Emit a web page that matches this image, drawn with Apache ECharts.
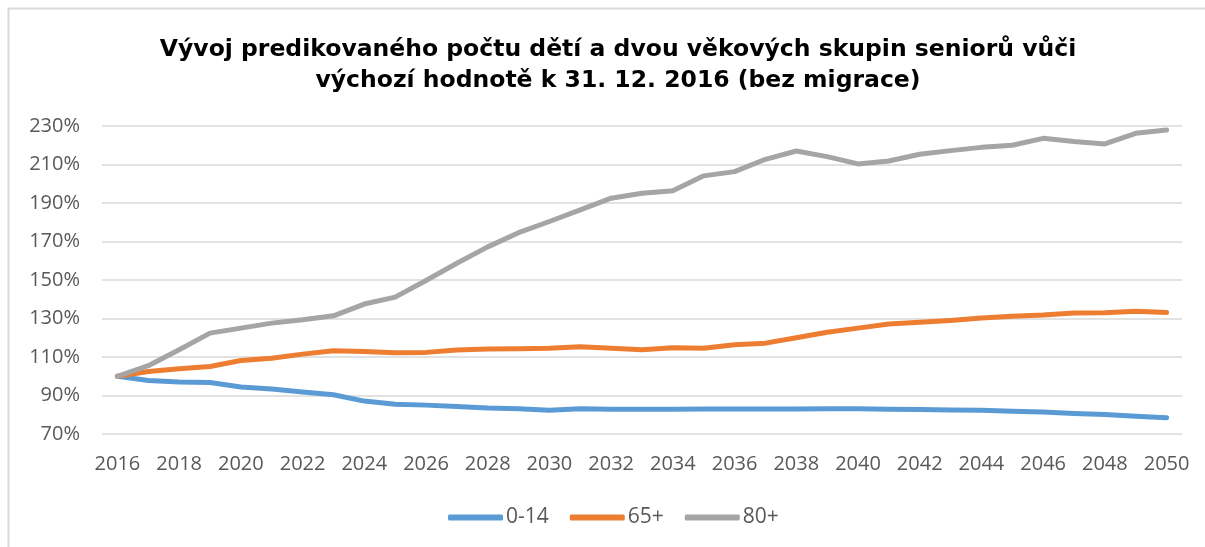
<!DOCTYPE html>
<html>
<head>
<meta charset="utf-8">
<script src="https://cdn.jsdelivr.net/npm/echarts@6/dist/echarts.min.js"></script>
<style>
html,body{margin:0;padding:0;background:#fff;}
#chart{width:1205px;height:547px;}
</style>
</head>
<body>
<div id="chart"></div>
<script>
var titleText = 'Vývoj predikovaného počtu dětí a dvou věkových skupin seniorů vůči\nvýchozí hodnotě k 31. 12. 2016 (bez migrace)';
var years = [];
for (var y = 2016; y <= 2050; y++) years.push(String(y));
var seriesNames = ['0-14', '65+', '80+'];
var kids = [100, 97.8, 97.0, 96.8, 94.4, 93.4, 91.8, 90.4, 87.1, 85.4, 85.0, 84.3, 83.5, 83.1, 82.3, 83.1, 82.9, 82.8, 82.8, 83.0, 83.0, 83.0, 83.0, 83.1, 83.1, 82.9, 82.7, 82.5, 82.3, 81.8, 81.4, 80.7, 80.1, 79.2, 78.4];
var seniors65 = [100, 102.5, 103.9, 105.1, 108.2, 109.4, 111.5, 113.2, 112.9, 112.2, 112.4, 113.6, 114.1, 114.3, 114.5, 115.3, 114.5, 113.8, 114.8, 114.6, 116.4, 117.2, 120.0, 122.9, 125.0, 127.1, 128.1, 129.0, 130.2, 131.2, 131.8, 132.8, 133.0, 133.8, 133.1];
var seniors80 = [100, 105.5, 113.8, 122.4, 125.0, 127.6, 129.3, 131.4, 137.5, 141.1, 149.7, 158.7, 167.2, 174.6, 180.4, 186.4, 192.5, 195.1, 196.4, 204.1, 206.3, 212.7, 217.0, 214.1, 210.3, 211.8, 215.3, 217.2, 218.9, 220.0, 223.6, 221.9, 220.7, 226.2, 227.9];
var colors = ['#5b9bd5', '#ed7d31', '#a5a5a5'];

var chart = echarts.init(document.getElementById('chart'), null, {renderer: 'canvas'});
function mk(name, data, color) {
  return {
    name: name, type: 'line', data: data, symbol: 'none', smooth: false,
    lineStyle: {width: 5, color: color, cap: 'round', join: 'round'},
    itemStyle: {color: color}
  };
}
chart.setOption({
  animation: false,
  backgroundColor: '#fff',
  graphic: [{
    type: 'rect', silent: true, z: -1,
    shape: {x: 8.5, y: 8.5, width: 1400, height: 800},
    style: {fill: 'none', stroke: '#d9d9d9', lineWidth: 2}
  }],
  title: {
    text: titleText, left: 613, top: 29, textAlign: 'center',
    textStyle: {fontFamily: 'DejaVu Sans', fontWeight: 'bold', fontSize: 23.5, color: '#000', lineHeight: 31}
  },
  legend: {
    bottom: 14, left: 443, itemWidth: 55, itemHeight: 6, itemGap: 21,
    icon: 'roundRect',
    textStyle: {fontFamily: 'Open Sans', fontSize: 21, color: '#595959', padding: [0, 0, 0, -2]},
    data: seriesNames
  },
  grid: {left: 102, right: 23, top: 126, bottom: 113, containLabel: false},
  xAxis: {
    type: 'category', data: years, boundaryGap: true,
    axisLine: {show: false}, axisTick: {show: false},
    axisLabel: {interval: 1, color: '#595959', fontFamily: 'Open Sans', fontSize: 20, margin: 20}
  },
  yAxis: {
    type: 'value', min: 70, max: 230, interval: 20,
    axisLine: {show: false}, axisTick: {show: false},
    axisLabel: {color: '#595959', fontFamily: 'Open Sans', fontSize: 20, margin: 22, formatter: '{value}%'},
    splitLine: {lineStyle: {color: '#d9d9d9', width: 1.5}}
  },
  series: [mk(seriesNames[0], kids, colors[0]), mk(seriesNames[1], seniors65, colors[1]), mk(seriesNames[2], seniors80, colors[2])]
});
</script>
</body>
</html>
